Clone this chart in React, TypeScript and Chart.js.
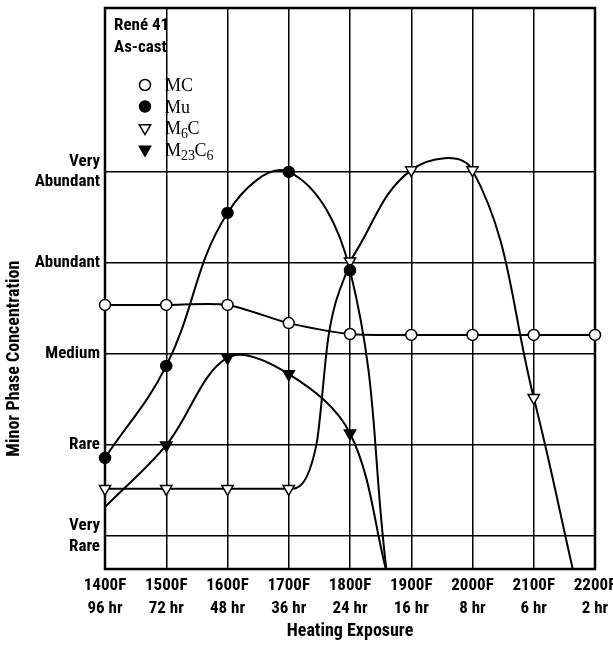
import React, { useEffect, useRef } from "react";
import { Chart, registerables } from "chart.js";

Chart.register(...registerables);

// ---------- data ----------
const temperatures = [1400, 1500, 1600, 1700, 1800, 1900, 2000, 2100, 2200];
const hourLabels = ["96 hr", "72 hr", "48 hr", "36 hr", "24 hr", "16 hr", "8 hr", "6 hr", "2 hr"];
const levelValues = [1, 2, 3, 4, 5];
const levelLabels: (string | string[])[] = [["Very", "Rare"], "Rare", "Medium", "Abundant", ["Very", "Abundant"]];
const yAxisTitle = "Minor Phase Concentration";
const xAxisTitle = "Heating Exposure";

// MC (open circles)
const mcTemps = [1400, 1500, 1600, 1700, 1800, 1900, 2000, 2100, 2200];
const mcValues = [3.54, 3.54, 3.54, 3.34, 3.22, 3.21, 3.21, 3.21, 3.21];
const mcMarked = [1, 1, 1, 1, 1, 1, 1, 1, 1];

// Mu (filled circles)
const muTemps = [1400, 1500, 1600, 1700, 1800, 1860];
const muValues = [1.86, 2.87, 4.55, 5.0, 3.92, 0.6];
const muMarked = [1, 1, 1, 1, 1, 0];

// M6C (open down triangles)
const m6cTemps = [1400, 1500, 1600, 1700, 1745, 1765, 1800, 1900, 2000, 2100, 2165];
const m6cValues = [1.52, 1.52, 1.52, 1.52, 2.0, 3.2, 4.02, 5.02, 5.02, 2.52, 0.6];
const m6cMarked = [1, 1, 1, 1, 0, 0, 1, 1, 1, 1, 0];
const m6cSplitTemp = 1800;

// M23C6 (filled down triangles)
const m23Temps = [1400, 1500, 1600, 1700, 1800, 1860];
const m23Values = [1.32, 2.0, 2.96, 2.78, 2.13, 0.6];
const m23Marked = [0, 1, 1, 1, 1, 0];

const chartTitleLines = ["René 41", "As-cast"];

// ---------- helpers ----------
const SANS = '"Liberation Sans Narrow", "Roboto Condensed", "DejaVu Sans Condensed", "Liberation Sans", sans-serif';
const SERIF = '"Liberation Serif", "DejaVu Serif", serif';

const pts = (xs: number[], ys: number[]) => xs.map((x, i) => ({ x, y: ys[i] }));
const marked = (xs: number[], ys: number[], m: number[]) =>
  xs.map((x, i) => ({ x, y: ys[i] })).filter((_, i) => m[i]);

type Style = { pointStyle: string; rotation: number; radius: number; fill: string };
const styles: Record<string, Style> = {
  MC: { pointStyle: "circle", rotation: 0, radius: 5.5, fill: "#ffffff" },
  Mu: { pointStyle: "circle", rotation: 0, radius: 5.5, fill: "#000000" },
  M6C: { pointStyle: "triangle", rotation: 180, radius: 6.5, fill: "#ffffff" },
  M23C6: { pointStyle: "triangle", rotation: 180, radius: 6.5, fill: "#000000" },
};

const legendItems: { key: string; parts: { t: string; sub?: boolean }[] }[] = [
  { key: "MC", parts: [{ t: "MC" }] },
  { key: "Mu", parts: [{ t: "Mu" }] },
  { key: "M6C", parts: [{ t: "M" }, { t: "6", sub: true }, { t: "C" }] },
  { key: "M23C6", parts: [{ t: "M" }, { t: "23", sub: true }, { t: "C" }, { t: "6", sub: true }] },
];

function drawMarker(ctx: CanvasRenderingContext2D, s: Style, x: number, y: number) {
  ctx.save();
  ctx.beginPath();
  if (s.pointStyle === "circle") {
    ctx.arc(x, y, s.radius, 0, Math.PI * 2);
  } else {
    let rad = (s.rotation * Math.PI) / 180;
    const r = s.radius;
    ctx.moveTo(x + Math.sin(rad) * r, y - Math.cos(rad) * r);
    rad += (2 * Math.PI) / 3;
    ctx.lineTo(x + Math.sin(rad) * r, y - Math.cos(rad) * r);
    rad += (2 * Math.PI) / 3;
    ctx.lineTo(x + Math.sin(rad) * r, y - Math.cos(rad) * r);
    ctx.closePath();
  }
  ctx.fillStyle = s.fill;
  ctx.fill();
  ctx.lineWidth = 1.5;
  ctx.strokeStyle = "#000";
  ctx.stroke();
  ctx.restore();
}

const framePlugin = {
  id: "frame",
  beforeDatasetsDraw(chart: any) {
    const { left, top, right, bottom } = chart.chartArea;
    const ctx = chart.ctx;
    ctx.save();
    ctx.strokeStyle = "#000";
    ctx.lineWidth = 2.5;
    ctx.strokeRect(left, top, right - left, bottom - top);
    ctx.restore();
  },
};

const yTitlePlugin = {
  id: "yTitle",
  afterDraw(chart: any) {
    const ctx: CanvasRenderingContext2D = chart.ctx;
    const { top, bottom } = chart.chartArea;
    ctx.save();
    ctx.translate(14, top + (bottom - top) * 0.625);
    ctx.rotate(-Math.PI / 2);
    ctx.fillStyle = "#000";
    ctx.textAlign = "center";
    ctx.textBaseline = "middle";
    ctx.font = `bold 18px ${SANS}`;
    ctx.fillText(yAxisTitle, 0, 0);
    ctx.restore();
  },
};

const legendPlugin = {
  id: "insideLegend",
  afterDraw(chart: any) {
    const ctx: CanvasRenderingContext2D = chart.ctx;
    const { left, top } = chart.chartArea;
    ctx.save();
    ctx.fillStyle = "#000";
    ctx.textBaseline = "middle";
    ctx.textAlign = "left";
    ctx.font = `bold 17px ${SANS}`;
    chartTitleLines.forEach((line, i) => ctx.fillText(line, left + 9, top + 18 + i * 22));

    legendItems.forEach((item, i) => {
      const y = top + 77 + i * 21.5;
      drawMarker(ctx, styles[item.key], left + 40, y);
      let x = left + 60;
      ctx.textBaseline = "alphabetic";
      item.parts.forEach((p) => {
        ctx.font = p.sub ? `14px ${SERIF}` : `18px ${SERIF}`;
        ctx.fillText(p.t, x, p.sub ? y + 10 : y + 6);
        x += ctx.measureText(p.t).width - (p.sub ? 0.5 : 0);
      });
    });
    ctx.restore();
  },
};

function lineDataset(data: { x: number; y: number }[], monotone = false, tension = 0.4) {
  return {
    type: "line" as const,
    data,
    borderColor: "#000",
    borderWidth: 2,
    pointRadius: 0,
    fill: false,
    tension,
    cubicInterpolationMode: monotone ? ("monotone" as const) : ("default" as const),
    order: 2,
  };
}

function markerDataset(data: { x: number; y: number }[], s: Style) {
  return {
    type: "line" as const,
    data,
    showLine: false,
    pointStyle: s.pointStyle,
    pointRotation: s.rotation,
    pointRadius: s.radius,
    pointBackgroundColor: s.fill,
    pointBorderColor: "#000",
    pointBorderWidth: 1.5,
    clip: false as const,
    order: 1,
  };
}

export default function App() {
  const ref = useRef<HTMLCanvasElement | null>(null);

  useEffect(() => {
    if (!ref.current) return;
    const m6cAll = pts(m6cTemps, m6cValues);
    const m6cLow = m6cAll.filter((p) => p.x <= m6cSplitTemp);
    const m6cHigh = m6cAll.filter((p) => p.x >= m6cSplitTemp);

    const chart = new Chart(ref.current, {
      type: "line",
      data: {
        datasets: [
          markerDataset(marked(mcTemps, mcValues, mcMarked), styles.MC),
          markerDataset(marked(muTemps, muValues, muMarked), styles.Mu),
          markerDataset(marked(m6cTemps, m6cValues, m6cMarked), styles.M6C),
          markerDataset(marked(m23Temps, m23Values, m23Marked), styles.M23C6),
          lineDataset(pts(mcTemps, mcValues), false, 0.25),
          lineDataset(pts(muTemps, muValues)),
          lineDataset(m6cLow, true),
          lineDataset(m6cHigh),
          lineDataset(pts(m23Temps, m23Values), false, 0.35),
        ] as any,
      },
      options: {
        animation: false,
        responsive: false,
        maintainAspectRatio: false,
        events: [],
        layout: { padding: { left: 0, right: 18, top: 5, bottom: 0 } },
        plugins: {
          legend: { display: false },
          tooltip: { enabled: false },
          title: { display: false },
        },
        scales: {
          x: {
            type: "linear",
            min: temperatures[0],
            max: temperatures[temperatures.length - 1],
            afterBuildTicks: (s: any) => {
              s.ticks = temperatures.map((v) => ({ value: v }));
            },
            afterFit: (s: any) => {
              s.height = 82;
              s.paddingLeft = 0;
              s.paddingRight = 0;
            },
            ticks: {
              autoSkip: false,
              maxRotation: 0,
              padding: 5,
              color: "#000",
              font: { family: SANS, size: 17, weight: "bold", lineHeight: 1.35 },
              callback: (v: any, i: number) => [`${v}F`, hourLabels[i]],
            },
            grid: { color: "#000", lineWidth: 1.5, drawTicks: false },
            border: { display: false },
            title: {
              display: true,
              text: xAxisTitle,
              color: "#000",
              font: { family: SANS, size: 18, weight: "bold", lineHeight: 1.2 },
              padding: { top: 0, bottom: 9 },
            },
          },
          y: {
            type: "linear",
            min: 0.64,
            max: 6.8,
            afterBuildTicks: (s: any) => {
              s.ticks = levelValues.map((v) => ({ value: v }));
            },
            afterFit: (s: any) => {
              s.width = 105;
              s.paddingTop = 0;
              s.paddingBottom = 0;
            },
            ticks: {
              autoSkip: false,
              padding: 5,
              color: "#000",
              font: { family: SANS, size: 17, weight: "bold", lineHeight: 1.2 },
              callback: (v: any, i: number) => levelLabels[i],
            },
            grid: { color: "#000", lineWidth: 1.5, drawTicks: false },
            border: { display: false },
            title: { display: false },
          },
        },
      } as any,
      plugins: [framePlugin, yTitlePlugin, legendPlugin],
    });
    return () => chart.destroy();
  }, []);

  return (
    <div style={{ position: "absolute", left: 0, top: 0, width: 613, height: 651, background: "#fff" }}>
      <canvas ref={ref} width={613} height={651} />
    </div>
  );
}
